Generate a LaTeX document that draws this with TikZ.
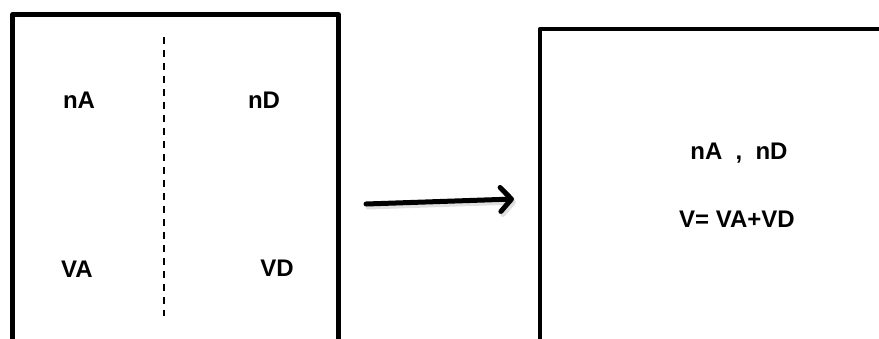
\documentclass[tikz,border=0pt]{standalone}
\usepackage{fontspec}
\setmainfont{Liberation Sans}
\usetikzlibrary{arrows.meta}
\usetikzlibrary{positioning}

\tikzset{
  wall/.style={line width=4.5pt, line join=round, black},
  cut/.style={line width=2pt, dash pattern=on 7pt off 6pt, black},
  lbl/.style={anchor=base, inner sep=0pt, font=\fontsize{24}{28}\selectfont\bfseries},
  mixarrow/.style={line width=5pt, line cap=round,
    -{Straight Barb[length=11pt,width=24pt,line cap=round,line join=round]}}
}

\begin{document}
\begin{tikzpicture}[x=1pt,y=-1pt]
\clip (0,0) rectangle (879,338);
\fill[white] (0,0) rectangle (879,338);

% two gases, separated
\draw[wall] (12.5,350) -- (12.5,14.5) -- (338.5,14.5) -- (338.5,350);
\coordinate (cuttop) at (164,37);
\coordinate (cutbot) at (164,316);
\draw[cut] (cuttop) -- (cutbot);

\node[lbl] (nA) at (79,108) {nA};
\node[lbl] (nD) at (264,108) {nD};
\node[lbl] (vA) at (77,277) {VA};
\node[lbl] (vD) at (277,276) {VD};

% mixing
\coordinate (arrtail) at (366,204);
\coordinate (arrhead) at (514,199);
\draw[mixarrow, gray!40, opacity=0.6] ([shift={(2,3)}]arrtail) -- ([shift={(2,3)}]arrhead);
\draw[mixarrow] (arrtail) -- (arrhead);

% mixture
\draw[wall] (540,350) -- (540,29) -- (890,29);
\node[lbl] (mix) at (739,159) {nA\hspace{0.55em},\hspace{0.55em}nD};
\node[lbl] (vsum) at (737,227) {V= VA+VD};
\end{tikzpicture}
\end{document}
